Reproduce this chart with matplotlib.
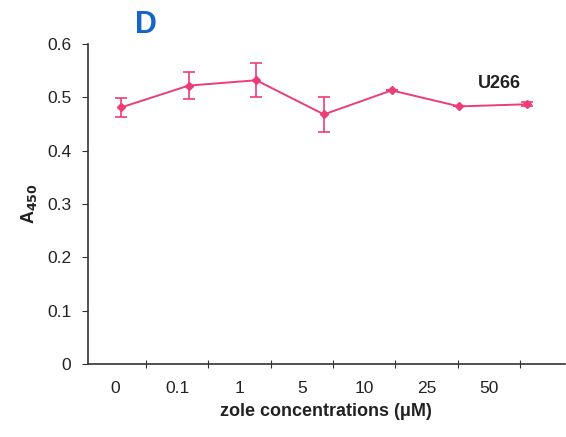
import matplotlib
matplotlib.use('Agg')
import matplotlib.pyplot as plt
import numpy as np

plt.rcParams['font.family'] = ['Liberation Sans', 'DejaVu Sans']

# données
concentrations = ['0', '0.1', '1', '5', '10', '25', '50']
absorbance = [0.481, 0.522, 0.532, 0.468, 0.513, 0.483, 0.487]
erreurs = [0.018, 0.025, 0.032, 0.033, 0.0, 0.0, 0.004]

rose = '#EC3D76'
gris = '#333333'

fig = plt.figure(figsize=(5.66, 4.37), dpi=100)
ax = fig.add_axes([88 / 566, 73 / 437, 1 - 88 / 566 - 0.002, 320 / 437])

# positions (points légèrement décalés comme dans la figure d'origine)
x_points = 0.53 + 1.085 * np.arange(len(concentrations))
x_ticks = 0.93 + np.arange(len(concentrations))
x_labels = 0.43 + np.arange(len(concentrations))

ax.errorbar(x_points, absorbance, yerr=erreurs, color=rose, lw=1.4,
            marker='D', ms=4, capsize=4, capthick=1.2, elinewidth=1.2)

ax.set_xlim(0, 7.65)
ax.set_ylim(0, 0.6)
ax.set_yticks(np.arange(0, 0.61, 0.1))
ax.set_yticklabels(['0', '0.1', '0.2', '0.3', '0.4', '0.5', '0.6'], fontsize=12.5, color='#222222')
ax.set_xticks(x_ticks)
ax.set_xticklabels([])
ax.set_xticks(x_labels, minor=True)
ax.set_xticklabels(concentrations, minor=True, fontsize=12.5, color='#222222')
ax.tick_params(axis='x', which='major', direction='inout', length=6, color=gris)
ax.tick_params(axis='x', which='minor', length=0, pad=12)
ax.tick_params(axis='y', direction='out', length=4, color=gris, pad=8)

for cote in ['top', 'right']:
    ax.spines[cote].set_visible(False)
for cote in ['left', 'bottom']:
    ax.spines[cote].set_color(gris)
    ax.spines[cote].set_linewidth(1.2)

ax.set_xlabel('zole concentrations (\u03bcM)', fontsize=13, fontweight='bold', labelpad=5, color='#222222')
ax.set_ylabel('A$_{\\mathbf{450}}$', fontsize=13, fontweight='bold', labelpad=6, color='#222222')

ax.text(6.6, 0.518, 'U266', fontsize=13, fontweight='bold', color='#222222', ha='center')
fig.text(0.257, 0.925, 'D', fontsize=22, fontweight='bold', color='#1565C8', ha='center')

fig.savefig('out.png', dpi=100)
